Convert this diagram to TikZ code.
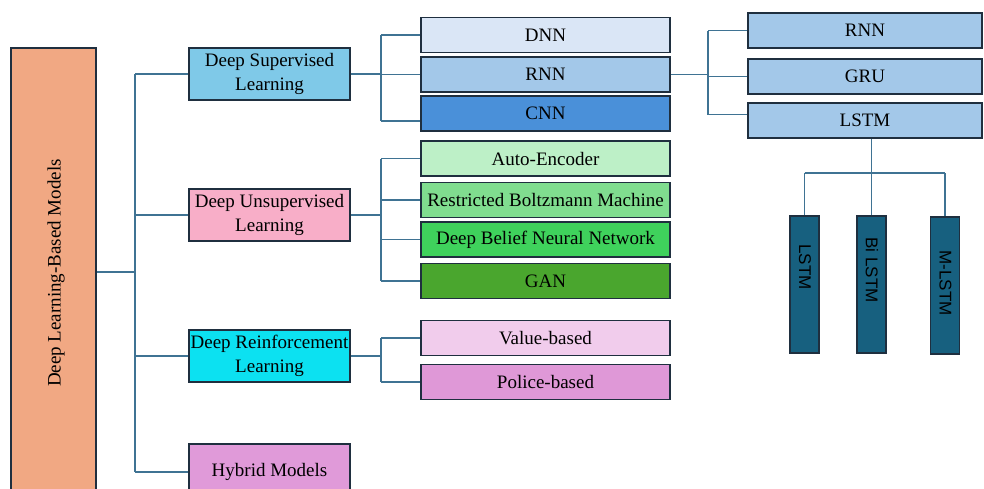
\documentclass[tikz,border=0pt]{standalone}
\usepackage{fontspec}
\setmainfont{Liberation Serif}
\newfontfamily\labelsans{Liberation Sans}
\definecolor{edgeline}{HTML}{1F2F3F}
\definecolor{linkline}{HTML}{3F7393}
\definecolor{rootfill}{HTML}{F1A883}
\definecolor{supfill}{HTML}{7FC9E8}
\definecolor{unsupfill}{HTML}{F8AEC8}
\definecolor{reinffill}{HTML}{0CE1F1}
\definecolor{hybfill}{HTML}{E09AD9}
\definecolor{dnnfill}{HTML}{DAE6F6}
\definecolor{rnnfill}{HTML}{A3C8E9}
\definecolor{cnnfill}{HTML}{4A90D9}
\definecolor{aefill}{HTML}{BDF0C7}
\definecolor{rbmfill}{HTML}{80DD8F}
\definecolor{dbnfill}{HTML}{3FD25C}
\definecolor{ganfill}{HTML}{4AA62E}
\definecolor{valfill}{HTML}{F1CCEC}
\definecolor{polfill}{HTML}{DF98D7}
\definecolor{lstmfill}{HTML}{17607F}
\begin{document}
\begin{tikzpicture}[x=1pt,y=-1pt,
  box/.style={draw=edgeline,line width=1.6pt,inner sep=0pt,align=center,
    font=\fontsize{19}{24}\selectfont},
  catbox/.style={box,minimum width=161pt,minimum height=52pt},
  algbox/.style={box,minimum width=249pt,minimum height=35pt},
  rnnbox/.style={box,fill=rnnfill,minimum width=234pt,minimum height=35pt},
  varbox/.style={box,fill=lstmfill,minimum width=29pt,minimum height=137pt},
  vartext/.style={rotate=-90,inner sep=0pt,font=\labelsans\fontsize{17}{20}\selectfont},
  conn/.style={draw=linkline,line width=1.5pt}]
\clip (0,0) rectangle (984,488);
\fill[white] (0,0) rectangle (984,488);

% root
\node[box,fill=rootfill,minimum width=85pt,minimum height=448pt] (root) at (53.5,272) {};
\node[rotate=90,inner sep=0pt,font=\fontsize{19}{24}\selectfont] (roottext) at (56,273) {Deep Learning-Based Models};

% categories
\node[catbox,fill=supfill] (sup) at (269.5,74) {Deep Supervised\\Learning};
\node[catbox,fill=unsupfill] (unsup) at (269.5,215) {Deep Unsupervised\\Learning};
\node[catbox,fill=reinffill] (reinf) at (269.5,356) {Deep Reinforcement\\Learning};
\node[box,fill=hybfill,minimum width=161pt,minimum height=56pt] (hyb) at (269.5,472) {Hybrid Models};

% algorithms
\node[algbox,fill=dnnfill] (dnn) at (545.5,35) {DNN};
\node[algbox,fill=rnnfill] (rnn) at (545.5,74.5) {RNN};
\node[algbox,fill=cnnfill] (cnn) at (545.5,113.5) {CNN};
\node[algbox,fill=aefill] (ae) at (545.5,158.5) {Auto-Encoder};
\node[algbox,fill=rbmfill] (rbm) at (545.5,200) {Restricted Boltzmann Machine};
\node[algbox,fill=dbnfill] (dbn) at (545.5,239.5) {Deep Belief Neural Network};
\node[algbox,fill=ganfill] (gan) at (545.5,281) {GAN};
\node[algbox,fill=valfill] (val) at (545.5,338) {Value-based};
\node[algbox,fill=polfill] (pol) at (545.5,382) {Police-based};

% recurrent family
\node[rnnbox] (rnnb) at (865,30.5) {RNN};
\node[rnnbox] (gru) at (865,76.5) {GRU};
\node[rnnbox] (lstm) at (865,120.5) {LSTM};

% LSTM variants
\node[varbox] (va) at (804.5,284.5) {};
\node[varbox] (vb) at (871.5,284.5) {};
\node[varbox] (vc) at (945,285.5) {};
\node[vartext] (ta) at (805,267) {LSTM};
\node[vartext] (tb) at (872,270) {Bi LSTM};
\node[vartext] (tc) at (945.5,283) {M-LSTM};

% trunk
\coordinate (tx) at (135,0);
\draw[conn] (root.east) -- (root.east -| tx);
\draw[conn] (tx |- sup.west) -- (tx |- hyb.west);
\foreach \n in {sup,unsup,reinf,hyb} \draw[conn] (tx |- \n.west) -- (\n.west);

% brackets to algorithms
\coordinate (bx) at (381,0);
\draw[conn] (sup.east) -- (bx |- sup.east);
\draw[conn] (bx |- dnn.west) -- ([yshift=-7.5pt]cnn.west -| bx);
\draw[conn] (bx |- dnn.west) -- (dnn.west);
\draw[conn] (bx |- rnn.west) -- (rnn.west);
\draw[conn] ([yshift=-7.5pt]cnn.west -| bx) -- ([yshift=-7.5pt]cnn.west);

\draw[conn] (unsup.east) -- (bx |- unsup.east);
\draw[conn] (bx |- ae.west) -- (bx |- gan.west);
\foreach \n in {ae,rbm,dbn,gan} \draw[conn] (bx |- \n.west) -- (\n.west);

\draw[conn] (reinf.east) -- (bx |- reinf.east);
\draw[conn] (bx |- val.west) -- (bx |- pol.west);
\foreach \n in {val,pol} \draw[conn] (bx |- \n.west) -- (\n.west);

% bracket to recurrent family
\coordinate (rx) at (708,0);
\draw[conn] (rnn.east) -- (rx |- rnn.east);
\draw[conn] (rx |- rnnb.west) -- ([yshift=6pt]lstm.west -| rx);
\draw[conn] (rx |- rnnb.west) -- (rnnb.west);
\draw[conn] (rx |- gru.west) -- (gru.west);
\draw[conn] ([yshift=6pt]lstm.west -| rx) -- ([yshift=6pt]lstm.west);

% LSTM to its variants
\coordinate (hy) at (0,173);
\draw[conn] (vb.north |- lstm.south) -- (vb.north);
\draw[conn] (va.north |- hy) -- (vc.north |- hy);
\draw[conn] (va.north |- hy) -- (va.north);
\draw[conn] (vc.north |- hy) -- (vc.north);
\end{tikzpicture}
\end{document}
